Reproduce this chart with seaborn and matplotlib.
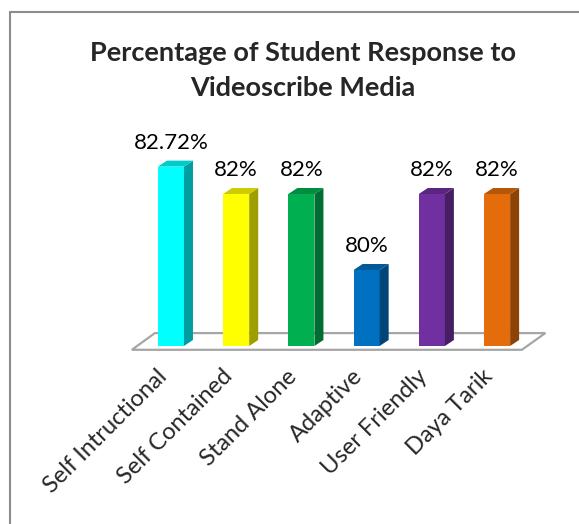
import matplotlib
matplotlib.use("Agg")
import matplotlib.pyplot as plt
import matplotlib.colors as mcolors
from matplotlib.patches import Polygon
from matplotlib.lines import Line2D
from matplotlib.transforms import ScaledTranslation
import seaborn as sns
import pandas as pd

categories = ["Self Intructional", "Self Contained", "Stand Alone", "Adaptive", "User Friendly", "Daya Tarik"]
values = [82.72, 82, 82, 80, 82, 82]
colors = ["#00FFFF", "#FFFF00", "#00B050", "#0070C0", "#7030A0", "#E46C0A"]
title = "Percentage of Student Response to\nVideoscribe Media"
baseline = 78

sns.set_theme(style="white")
plt.rcParams["font.family"] = ["Lato", "DejaVu Sans"]

W, H = 579, 524
fig = plt.figure(figsize=(W / 100, H / 100), dpi=100)
ax = fig.add_axes([122 / W, (H - 353.6) / H, 424 / W, (353.6 - 137) / H])

df = pd.DataFrame({"cat": categories, "val": values})
sns.barplot(data=df, x="cat", y="val", hue="cat", palette=colors, width=0.4,
            saturation=1, legend=False, ax=ax, zorder=3)

ax.set_xlim(-0.75, 5.75)
ax.set_ylim(77.8, 83.5)

dx, dy = 0.138, 0.158

# floor
floor = Polygon([(-0.6, 77.9), (5.38, 77.9), (5.74, 78.34), (-0.245, 78.34)],
                closed=True, facecolor="white", edgecolor="#A6A6A6", lw=1.6,
                zorder=1, clip_on=False)
ax.add_patch(floor)

for patch, col, v in zip(ax.patches[:len(values)], colors, values):
    patch.set_y(baseline)
    patch.set_height(v - baseline)
    patch.set_edgecolor("none")
    x0 = patch.get_x()
    x1 = x0 + patch.get_width()
    rgb = mcolors.to_rgb(col)
    side = tuple(c * 0.62 for c in rgb)
    top = tuple(c * 0.8 for c in rgb)
    ax.add_patch(Polygon([(x1, baseline), (x1 + dx, baseline + dy), (x1 + dx, v + dy), (x1, v)],
                         closed=True, facecolor=side, edgecolor="none", zorder=3))
    ax.add_patch(Polygon([(x0, v), (x1, v), (x1 + dx, v + dy), (x0 + dx, v + dy)],
                         closed=True, facecolor=top, edgecolor="none", zorder=3))

for cont in ax.containers:
    ax.bar_label(cont, labels=[f"{v:g}%" for v in cont.datavalues], padding=10,
                 fontsize=16, color="black")

ax.set_xlabel("")
ax.set_ylabel("")
ax.set_yticks([])
ax.tick_params(axis="x", length=0, pad=10)
ax.set_xticks(range(len(categories)))
ax.set_xticklabels(categories, rotation=45, ha="right", rotation_mode="anchor", fontsize=17)
shift = ScaledTranslation(-0.15, 0.02, fig.dpi_scale_trans)
for lab in ax.get_xticklabels():
    lab.set_transform(lab.get_transform() + shift)
for s in ax.spines.values():
    s.set_visible(False)
ax.patch.set_alpha(0)

fig.text(303 / W, 1 - 70 / H, title, ha="center", va="center", fontsize=19.5,
         fontweight="bold", linespacing=1.55)

# chart border
fig.add_artist(Line2D([10 / W, 10 / W], [0, 1 - 12 / H], color="#8C8C8C", lw=1.5))
fig.add_artist(Line2D([10 / W, 1], [1 - 12 / H, 1 - 12 / H], color="#8C8C8C", lw=1.5))

fig.savefig("out.png", dpi=100)
